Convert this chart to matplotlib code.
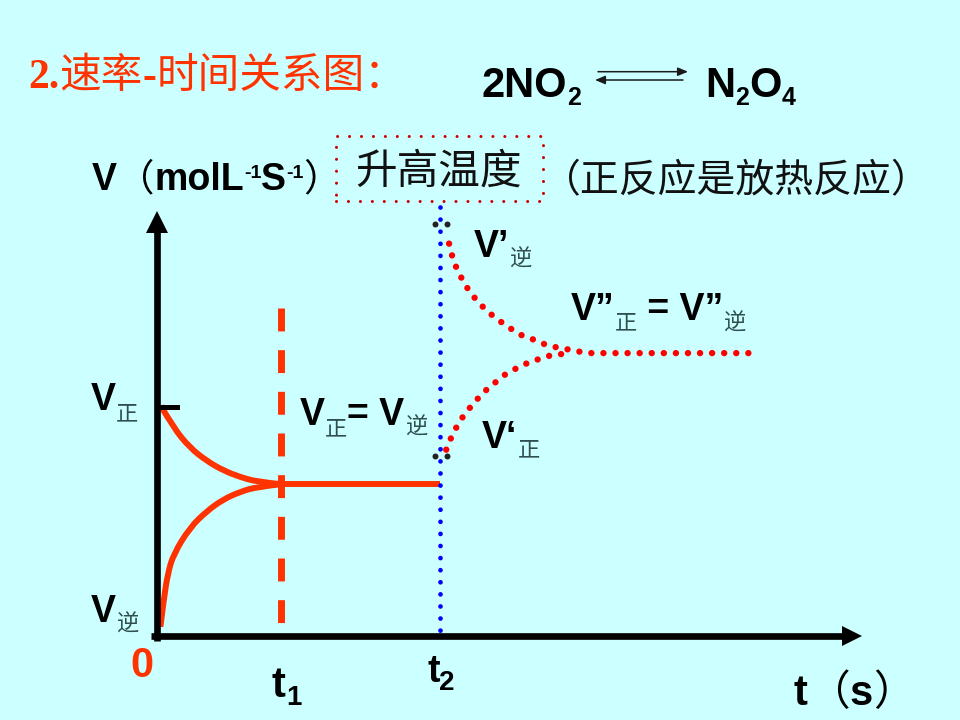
import matplotlib
matplotlib.use('Agg')
import matplotlib.pyplot as plt
from matplotlib import font_manager
from matplotlib.patches import Rectangle, PathPatch
from matplotlib.path import Path

W, H = 960, 720
BG = '#CCFFFF'
ORANGE = '#FF3300'
RED = '#FF0000'
BLUE = '#0000FF'
SUBC = '#2F4F4F'

# times of the two events
T1 = 2.19
T2 = 5.0

# before t1: forward and reverse rates approaching equilibrium
fwd_t = [0.07, 0.29, 0.58, 0.88, 1.17, 1.47, 1.76, 2.19]
fwd_v = [10.0, 9.06, 8.19, 7.61, 7.20, 6.91, 6.71, 6.60]
rev_t = [0.06, 0.12, 0.19, 0.29, 0.58, 0.88, 1.17, 1.47, 1.76, 2.19]
rev_v = [0.4, 1.6, 2.7, 3.55, 4.71, 5.43, 5.94, 6.27, 6.48, 6.60]
# equilibrium between t1 and t2
eq_t = [2.19, 5.0]
eq_v = [6.60, 6.60]

# after t2 (temperature raised)
rev2_t = [5.16, 5.21, 5.28, 5.37, 5.48, 5.61, 5.75, 5.90, 6.07, 6.24, 6.43,
          6.63, 6.82, 7.02, 7.22, 7.47, 7.68, 10.65]
rev2_v = [17.06, 16.57, 16.07, 15.61, 15.14, 14.71, 14.33, 13.99, 13.67, 13.38,
          13.09, 12.91, 12.71, 12.57, 12.48, 12.36, 12.30, 12.30]
fwd2_t = [5.11, 5.19, 5.28, 5.39, 5.52, 5.66, 5.81, 5.97, 6.14, 6.32, 6.51,
          6.70, 6.90, 7.12, 7.30]
fwd2_v = [8.10, 8.58, 9.03, 9.48, 9.90, 10.30, 10.68, 11.01, 11.35, 11.60,
          11.83, 12.00, 12.17, 12.25, 12.30]

# jump markers at t2
jump_t = [4.91, 5.12]
jump_top = 17.9
jump_bot = 7.83

FONTS = {
    'b': dict(family=['Liberation Sans', 'DejaVu Sans'], weight='bold'),
    's': dict(family=['Liberation Serif', 'DejaVu Serif'], weight='bold'),
    'c': dict(family=['Noto Sans CJK SC', 'DejaVu Sans'], weight='normal'),
}

fig = plt.figure(figsize=(9.6, 7.2), dpi=100, facecolor=BG)
ax = fig.add_axes([0, 0, 1, 1])
ax.set_facecolor(BG)
ax.axis('off')

# origin in pixels and pixels per unit
X0, Y0 = 157, 636
SX, SY = 56.6, 23.0
ax.set_xlim(-X0 / SX, (W - X0) / SX)
ax.set_ylim(-(H - Y0) / SY, Y0 / SY)


def advance(s, size, kind):
    prop = font_manager.FontProperties(**FONTS[kind])
    font = font_manager.get_font(font_manager.findfont(prop), hinting_factor=1)
    font.set_size(size, 72)
    total = sum(font.load_char(ord(ch)).linearHoriAdvance for ch in s) / 65536
    return total * 100 / 72


# write a line made of pieces with different fonts, x,y = baseline in pixels
def runs(x, y, parts):
    for s, size, dy, kind, color in parts:
        fig.text(x / W, 1 - (y + dy) / H, s, fontsize=size, color=color,
                 va='baseline', ha='left', **FONTS[kind])
        x += advance(s, size, kind)


# smooth curve through the read points (quadratic segments between midpoints)
def smooth(xs, ys, **kw):
    pts = list(zip(xs, ys))
    verts = [pts[0]]
    codes = [Path.MOVETO]
    for i in range(1, len(pts) - 2):
        mid = ((pts[i][0] + pts[i + 1][0]) / 2, (pts[i][1] + pts[i + 1][1]) / 2)
        verts += [pts[i], mid]
        codes += [Path.CURVE3, Path.CURVE3]
    verts += [pts[-2], pts[-1]]
    codes += [Path.CURVE3, Path.CURVE3]
    ax.add_patch(PathPatch(Path(verts, codes), fill=False, **kw))


# axes with arrows
ax.plot([0, 0], [-0.2, 18.0], color='k', lw=4.8, solid_capstyle='butt', zorder=4)
ax.plot([0], [18.0], marker='^', ms=16.5, color='k', mew=0, zorder=4)
ax.plot([-0.1, 12.28], [0, 0], color='k', lw=4.8, solid_capstyle='butt', zorder=4)
ax.plot([12.28], [0], marker='>', ms=14, color='k', mew=0, zorder=4)

# curves before t2
smooth(fwd_t, fwd_v, ec=ORANGE, lw=4.3, zorder=3)
smooth(rev_t, rev_v, ec=ORANGE, lw=4.3, zorder=3)
ax.plot(eq_t, eq_v, color=ORANGE, lw=4.3, solid_capstyle='butt', zorder=3)
ax.plot([0.05, 0.35], [9.95, 9.95], color='k', lw=3.6, zorder=3)

# t1 dashed line
ax.plot([T1, T1], [14.26, 0.48], color=ORANGE, lw=5, ls=(0, (3.3, 2.7)),
        dash_capstyle='butt', zorder=3)

# t2 blue dotted line
ax.plot([T2, T2], [18.65, -0.26], color=BLUE, lw=3.4, ls=(0, (0.01, 2.55)),
        dash_capstyle='round', zorder=5)

# dotted curves after t2
ax.plot(rev2_t, rev2_v, color=RED, lw=4.6, ls=(0, (0.01, 1.88)),
        dash_capstyle='round', zorder=3)
ax.plot(fwd2_t, fwd2_v, color=RED, lw=4.6, ls=(0, (0.01, 1.88)),
        dash_capstyle='round', zorder=3)

ax.plot(jump_t, [jump_top] * 2, 'o', color='#222222', ms=4.3, mew=0, zorder=6)
ax.plot(jump_t, [jump_bot] * 2, 'o', color='#222222', ms=4.3, mew=0, zorder=6)

# title
runs(28, 88, [('2.', 30, 0, 's', ORANGE), ('速率', 30, 0, 'c', ORANGE),
              ('-', 30, 0, 's', ORANGE), ('时间关系图：', 30, 0, 'c', ORANGE)])

# equation
runs(481, 97, [('2NO', 30, 0, 'b', 'k'), ('2', 18, 8, 'b', 'k')])
runs(705, 97, [('N', 30, 0, 'b', 'k'), ('2', 18, 8, 'b', 'k'),
               ('O', 30, 0, 'b', 'k'), ('4', 18, 8, 'b', 'k')])
arr = dict(arrowstyle='-|>,head_length=0.6,head_width=0.25', lw=1.1,
           color='#1a1a1a', mutation_scale=10, shrinkA=0, shrinkB=0)
ax.annotate('', xy=(688, H - 71.7), xytext=(598, H - 71.7),
            xycoords='figure pixels', textcoords='figure pixels', arrowprops=arr)
ax.annotate('', xy=(595, H - 80), xytext=(683, H - 80),
            xycoords='figure pixels', textcoords='figure pixels', arrowprops=arr)

# y label and condition
runs(92, 190, [('V', 27, 0, 'b', 'k'), ('（', 27, 0, 'c', 'k'),
               ('molL', 27, 0, 'b', 'k'), ('-1', 14, -12, 'b', 'k'),
               ('S', 27, 0, 'b', 'k'), ('-1', 14, -12, 'b', 'k'),
               ('）', 27, 0, 'c', 'k')])
runs(355, 184, [('升高温度', 30, 0, 'c', '#111111')])
fig.add_artist(Rectangle((336 / W, 1 - 201 / H), (543 - 336) / W, (201 - 136) / H,
                         transform=fig.transFigure, fill=False, ec='#CC0000',
                         lw=2.2, ls=(0, (0.01, 3.9)), capstyle='round'))
runs(542, 192, [('（正反应是放热反应）', 28, 0, 'c', '#111111')])

# labels in the plot
runs(91, 410, [('V', 27, 0, 'b', 'k'), ('正', 16, 10, 'c', SUBC)])
runs(91, 622, [('V', 27, 0, 'b', 'k'), ('逆', 16, 9, 'c', SUBC)])
runs(300, 425, [('V', 27, 0, 'b', 'k'), ('正', 16, 10, 'c', SUBC),
                ('= V', 27, 0, 'b', 'k'), ('逆', 16, 9, 'c', SUBC)])
runs(474, 257, [('V’', 27, 0, 'b', 'k'), ('逆', 16, 9, 'c', SUBC)])
runs(571, 320, [('V”', 27, 0, 'b', 'k'), ('正', 16, 9, 'c', SUBC),
                (' = V”', 27, 0, 'b', 'k'), ('逆', 16, 10, 'c', SUBC)])
runs(482, 448, [('V‘', 27, 0, 'b', 'k'), ('正', 16, 8, 'c', SUBC)])

# x labels
runs(130, 677, [('0', 30, 0, 'b', ORANGE)])
runs(272, 697, [('t', 30, 0, 'b', 'k'), ('1', 20, 8, 'b', 'k')])
runs(427, 682, [('t', 27, 0, 'b', 'k'), ('2', 20, 8, 'b', 'k')])
runs(794, 705, [('t', 30, 0, 'b', 'k'), ('（', 30, 0, 'c', 'k'),
                ('s', 30, 0, 'b', 'k'), ('）', 30, 0, 'c', 'k')])

fig.savefig('out.png', dpi=100, facecolor=BG)
